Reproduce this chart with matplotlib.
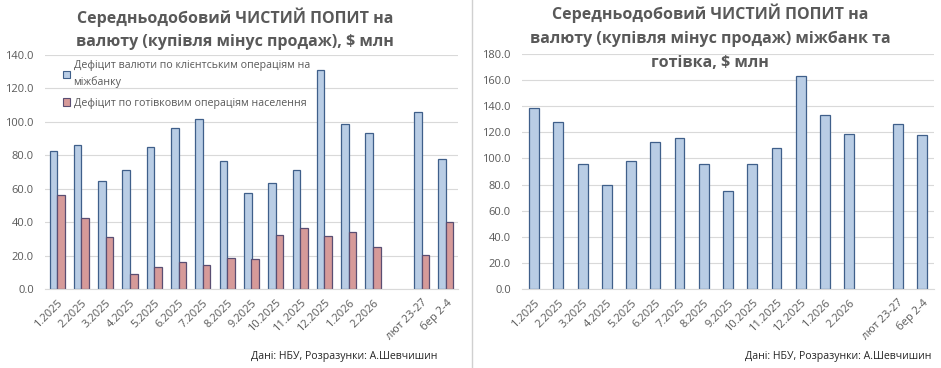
import numpy as np
import matplotlib.pyplot as plt
from matplotlib.patches import Patch
from matplotlib.lines import Line2D

plt.rcParams['font.family'] = ['Open Sans', 'DejaVu Sans']

# categories (empty slot = gap between months and weeks)
labels = ['1.2025', '2.2025', '3.2025', '4.2025', '5.2025', '6.2025', '7.2025',
          '8.2025', '9.2025', '10.2025', '11.2025', '12.2025', '1.2026', '2.2026',
          '', 'лют 23-27', 'бер 2-4']

# left chart: interbank client deficit and cash deficit
interbank = [82.7, 85.9, 64.8, 71.4, 85.1, 96.6, 102.0, 76.7, 57.7, 63.6, 71.4,
             131.0, 98.8, 93.4, np.nan, 106.0, 77.9]
cash = [56.5, 42.3, 31.0, 8.7, 13.1, 15.9, 14.3, 18.5, 17.7, 32.6, 36.2,
        32.0, 34.4, 25.0, np.nan, 20.1, 39.8]

# right chart: total (interbank + cash)
total = [138.5, 127.9, 96.0, 79.6, 98.3, 112.8, 115.7, 96.0, 75.2, 96.0, 108.0,
         163.1, 133.3, 118.7, np.nan, 126.4, 118.2]

blue_fill = '#B9CDE5'
blue_edge = '#3F5F8A'
red_fill = '#D69A99'
red_edge = '#5A4E72'
grey_txt = '#595959'
grid_c = '#D9D9D9'

fig = plt.figure(figsize=(9.41, 3.68), dpi=100)
W, H = 941, 368


def style_axes(ax, ymax, step):
    ax.set_xlim(-0.5, len(labels) - 0.5)
    ax.set_ylim(0, ymax)
    ax.set_yticks(np.arange(0, ymax + 1, step))
    ax.set_yticklabels([f'{v:.1f}' for v in np.arange(0, ymax + 1, step)])
    ax.set_xticks(np.arange(len(labels)))
    ax.set_xticklabels(labels, rotation=45, ha='right', rotation_mode='anchor')
    ax.grid(axis='y', color=grid_c, lw=0.8)
    ax.set_axisbelow(True)
    for s in ['top', 'right', 'left']:
        ax.spines[s].set_visible(False)
    ax.spines['bottom'].set_color(grid_c)
    ax.tick_params(length=0, labelsize=8, colors=grey_txt)
    ax.tick_params(axis='y', pad=8)
    ax.tick_params(axis='x', pad=6)


x = np.arange(len(labels))

# left chart
ax1 = fig.add_axes([45 / W, (H - 289) / H, 413 / W, 234 / H])
w = 0.31
ax1.bar(x - w / 2, interbank, w, color=blue_fill, edgecolor=blue_edge, lw=0.9)
ax1.bar(x + w / 2, cash, w, color=red_fill, edgecolor=red_edge, lw=0.9)
style_axes(ax1, 140, 20)
handles = [Patch(facecolor=blue_fill, edgecolor=blue_edge, lw=0.8),
           Patch(facecolor=red_fill, edgecolor=red_edge, lw=0.8)]
leg = ax1.legend(handles, ['Дефіцит валюти по клієнтським операціям на\nміжбанку',
                           'Дефіцит по готівковим операціям населення'],
                 loc='upper left', bbox_to_anchor=(0.02, 1.018), frameon=False,
                 fontsize=7.7, labelcolor=grey_txt, handlelength=0.7, handleheight=0.7,
                 handletextpad=0.3, labelspacing=0.9)
for t in leg.get_texts():
    t.set_linespacing(1.55)
fig.text(235 / W, 1 - 28.5 / H, 'Середньодобовий ЧИСТИЙ ПОПИТ на\nвалюту (купівля мінус продаж), $ млн',
         ha='center', va='center', fontsize=11.5, fontweight='bold', color=grey_txt,
         linespacing=1.6)
fig.text(437 / W, 1 - 356 / H, 'Дані: НБУ, Розразунки: А.Шевчишин',
         ha='right', va='center', fontsize=7.6, color='#262626')

# right chart
ax2 = fig.add_axes([522 / W, (H - 289) / H, 412 / W, 235 / H])
ax2.bar(x, total, 0.41, color=blue_fill, edgecolor=blue_edge, lw=0.9)
style_axes(ax2, 180, 20)
fig.text(710 / W, 1 - 37.5 / H,
         'Середньодобовий ЧИСТИЙ ПОПИТ на\nвалюту (купівля мінус продаж) міжбанк та\nготівка, $ млн',
         ha='center', va='center', fontsize=11.5, fontweight='bold', color=grey_txt,
         linespacing=1.65)
fig.text(931 / W, 1 - 356 / H, 'Дані: НБУ, Розразунки: А.Шевчишин',
         ha='right', va='center', fontsize=7.6, color='#262626')

# separator between the two charts
fig.add_artist(Line2D([472 / W, 472 / W], [0, 1], transform=fig.transFigure,
                      color='#D0D0D0', lw=1))

fig.savefig('out.png', dpi=100)
